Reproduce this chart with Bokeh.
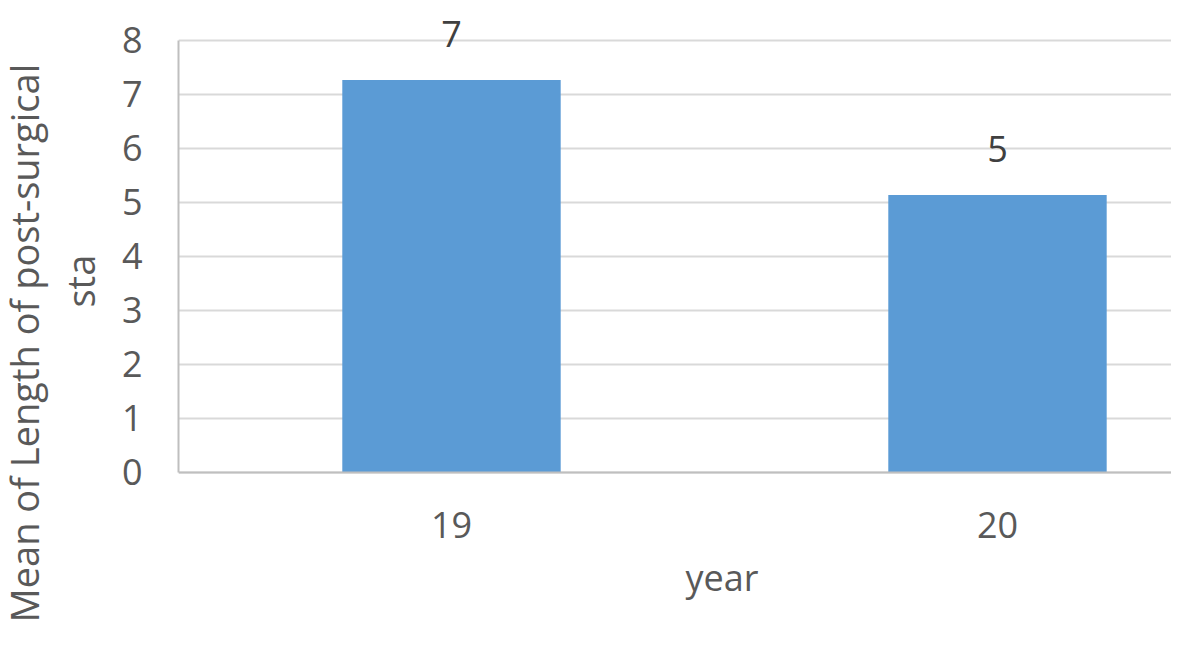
from bokeh.plotting import figure
from bokeh.models import ColumnDataSource, Title, Range1d, FixedTicker, Span
from bokeh.embed import file_html
from bokeh.resources import INLINE

categories = ["19", "20"]
means = [7.27, 5.14]
data_labels = ["7", "5"]
y_ticks = [0, 1, 2, 3, 4, 5, 6, 7, 8]

FONT = "Open Sans"
positions = list(range(len(categories)))

src = ColumnDataSource(dict(x=positions, top=means, lab=data_labels))

p = figure(width=1171, height=635, output_backend="svg", toolbar_location=None,
           x_range=Range1d(-0.5, 1.3187), y_range=Range1d(-0.2593, 8.7407),
           min_border_left=178, min_border_right=0, min_border_top=0,
           min_border_bottom=149)
p.outline_line_color = None
p.background_fill_color = "white"
p.border_fill_color = "white"

p.vbar(x="x", top="top", width=0.4, bottom=0, source=src,
       fill_color="#5B9BD5", line_color=None)
p.text(x="x", y="top", text="lab", source=src, y_offset=-46,
       text_align="center", text_baseline="alphabetic",
       text_font={"value": FONT}, text_font_size="36px", text_color="#404040")

p.xaxis.ticker = FixedTicker(ticks=positions)
p.xaxis.major_label_overrides = {i: c for i, c in enumerate(categories)}
p.yaxis.ticker = FixedTicker(ticks=y_ticks)
p.yaxis.bounds = (y_ticks[0], y_ticks[-1])

for ax in (p.xaxis, p.yaxis):
    ax.major_tick_line_color = None
    ax.minor_tick_line_color = None
    ax.axis_line_color = "#BFBFBF"
    ax.axis_line_width = 2
    ax.major_label_text_font = FONT
    ax.major_label_text_font_size = "36px"
    ax.major_label_text_color = "#595959"

# category axis baseline drawn at value 0 (frame extends a little below it)
p.xaxis.axis_line_color = None
p.xaxis.major_label_standoff = 19
p.yaxis.major_tick_out = 0
p.yaxis.major_tick_in = 0
p.yaxis.major_label_standoff = 36

p.xgrid.grid_line_color = None
p.ygrid.grid_line_color = "#D9D9D9"
p.ygrid.grid_line_width = 2
p.add_layout(Span(location=y_ticks[0], dimension="width",
                  line_color="#BFBFBF", line_width=2))


def side_title(text, offset, standoff, fallback, size="36px", valign="bottom"):
    t = Title(text=text, align="left", offset=offset, vertical_align=valign,
              text_font=FONT, text_font_size=size, text_color="#595959",
              text_font_style="normal")
    try:
        t.standoff = standoff
    except Exception:
        t.standoff = fallback
    return t


# axis titles as side-panel titles (offsets measured from frame bottom)
bottom_gap = 14
p.add_layout(side_title("sta", 165 + bottom_gap, 26, 26, "38px"), "left")
p.add_layout(side_title("Mean of Length of post-surgical", -150 + bottom_gap, -22, 0, "38px"), "left")
p.add_layout(side_title("year", 507, 24, 24, "36px", "top"), "below")

open("out.html", "w").write(file_html(p, INLINE))
